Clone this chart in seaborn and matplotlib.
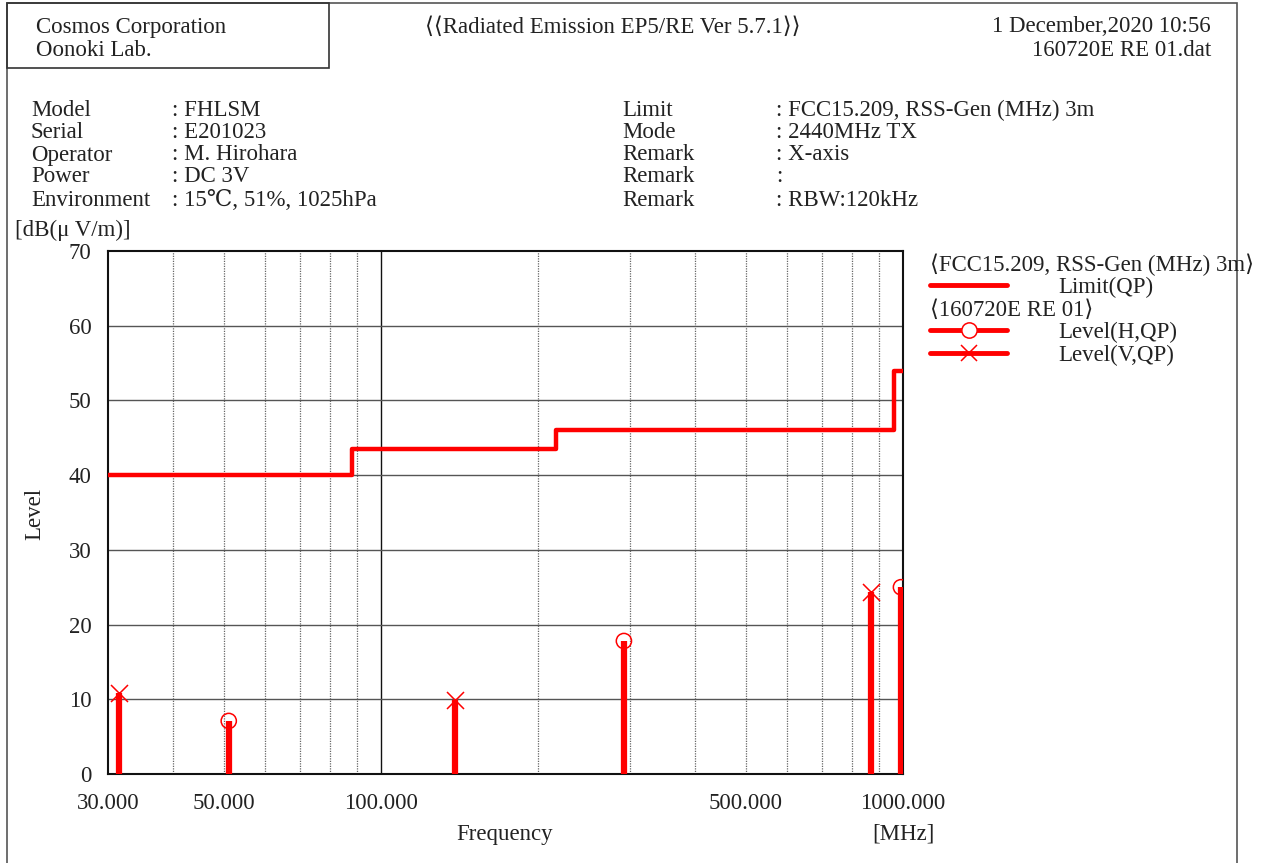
import numpy as np
import pandas as pd
import matplotlib
matplotlib.use("Agg")
import matplotlib.pyplot as plt
from matplotlib.patches import Rectangle
from matplotlib.lines import Line2D
from matplotlib.ticker import FixedLocator, NullFormatter
import seaborn as sns

# ---- data ----
limit_freq = [30.0, 88.0, 216.0, 960.0, 1000.0]
limit_level = [40.0, 43.5, 46.0, 54.0, 54.0]

h_freq = [51.1, 292.0, 991.0]
h_level = [7.1, 17.8, 25.0]

v_freq = [31.5, 138.6, 868.0]
v_level = [10.8, 9.9, 24.4]

x_tick_values = [30, 50, 100, 500, 1000]
x_tick_labels = ["30.000", "50.000", "100.000", "500.000", "1000.000"]
y_tick_values = [0, 10, 20, 30, 40, 50, 60, 70]

info_left = [("Model", ": FHLSM"), ("Serial", ": E201023"), ("Operator", ": M. Hirohara"),
             ("Power", ": DC 3V"), ("Environment", ": 15\u2103, 51%, 1025hPa")]
info_right = [("Limit", ": FCC15.209, RSS-Gen (MHz) 3m"), ("Mode", ": 2440MHz TX"),
              ("Remark", ": X-axis"), ("Remark", ":"), ("Remark", ": RBW:120kHz")]

sns.set_theme(style="white")
FONT = ["Liberation Serif", "DejaVu Serif", "DejaVu Sans"]
plt.rcParams["font.family"] = FONT
plt.rcParams["text.color"] = "#222222"

W, H = 1270, 863
fig = plt.figure(figsize=(W / 100, H / 100), dpi=100)
fs = 16.5


def fx(px):
    return px / W


def fy(py):
    return 1 - py / H


def ftext(px, py, s, ha="left", **kw):
    fig.text(fx(px), fy(py + 2), s, ha=ha, va="center", fontsize=kw.pop("fontsize", fs), **kw)


# page frame and header box
fig.add_artist(Rectangle((fx(7), fy(870)), fx(1237 - 7), fy(3) - fy(870), transform=fig.transFigure,
                         fill=False, edgecolor="#555555", linewidth=1.2))
fig.add_artist(Rectangle((fx(7), fy(68)), fx(329 - 7), fy(3) - fy(68), transform=fig.transFigure,
                         fill=False, edgecolor="#333333", linewidth=1.2))

ftext(36, 25, "Cosmos Corporation")
ftext(36, 48, "Oonoki Lab.")
ftext(425, 25, "\u27e8\u27e8Radiated Emission EP5/RE Ver 5.7.1\u27e9\u27e9")
ftext(1211, 25, "1 December,2020 10:56", ha="right")
ftext(1211, 48, "160720E RE 01.dat", ha="right")

row_y = [108, 130, 153, 175, 198]
for (k, v), y in zip(info_left, row_y):
    ftext(31, y, k)
    ftext(172, y, v)
for (k, v), y in zip(info_right, row_y):
    ftext(622, y, k)
    ftext(776, y, v)

ftext(15, 228, "[dB(\u03bc V/m)]")

# ---- axes ----
ax = fig.add_axes([fx(108), fy(774), fx(903 - 108), fy(251) - fy(774)])
ax.set_xscale("log")
ax.set_xlim(30, 1000)
ax.set_ylim(0, 70)

# grid
for f in list(range(40, 100, 10)) + list(range(200, 1000, 100)):
    ax.axvline(f, color="#666666", linewidth=0.9, linestyle=(0, (1, 1)), zorder=1)
ax.axvline(100, color="#111111", linewidth=1.0, zorder=1)
for lv in range(10, 70, 10):
    ax.axhline(lv, color="#555555", linewidth=1.0, zorder=1)

# limit line
limit_df = pd.DataFrame({"freq": limit_freq, "level": limit_level})
sns.lineplot(data=limit_df, x="freq", y="level", ax=ax, drawstyle="steps-post",
             color="#ff0000", linewidth=3.2, zorder=3)

# measured levels as stems with markers
ax.vlines(h_freq, 0, h_level, color="#ff0000", linewidth=4.5, zorder=4)
ax.vlines(v_freq, 0, v_level, color="#ff0000", linewidth=4.5, zorder=4)
sns.scatterplot(x=h_freq, y=h_level, ax=ax, marker="o", s=120, facecolor="none",
                edgecolor="#ff0000", linewidth=1.1, zorder=5)
sns.scatterplot(x=v_freq, y=v_level, ax=ax, marker="x", s=150, color="#ff0000",
                linewidth=1.1, zorder=5)

ax.xaxis.set_major_locator(FixedLocator(x_tick_values))
ax.xaxis.set_minor_locator(FixedLocator([]))
ax.xaxis.set_minor_formatter(NullFormatter())
ax.set_xticklabels(x_tick_labels)
ax.set_yticks(y_tick_values)
ax.yaxis.set_minor_locator(FixedLocator(np.arange(0, 71, 2)))
ax.tick_params(axis="x", which="both", length=0, labelsize=fs, pad=14, labelcolor="#222222")
ax.tick_params(axis="y", which="major", length=0, labelsize=fs, pad=12, labelcolor="#222222")
ax.tick_params(axis="y", which="minor", direction="in", length=6, width=1.2, color="#222222")
ax.set_xlabel("")
ax.set_ylabel("")
for sp in ax.spines.values():
    sp.set_color("#111111")
    sp.set_linewidth(1.5)

ftext(35, 512, "Level", rotation=90, ha="center")
ftext(505, 832, "Frequency", ha="center")
ftext(903, 832, "[MHz]", ha="center")

# legend block
ftext(930, 263, "\u27e8FCC15.209, RSS-Gen (MHz) 3m\u27e9")
ftext(930, 308, "\u27e8160720E RE 01\u27e9")
leg_rows = [(285, None, "Limit(QP)"), (330, "o", "Level(H,QP)"), (353, "x", "Level(V,QP)")]
for y, mk, label in leg_rows:
    fig.add_artist(Line2D([fx(930), fx(1007)], [fy(y), fy(y)], transform=fig.transFigure,
                          color="#ff0000", linewidth=3.5))
    if mk is not None:
        fig.add_artist(Line2D([fx(968.5)], [fy(y)], transform=fig.transFigure, marker=mk,
                              markersize=11, markerfacecolor="white" if mk == "o" else "#ff0000",
                              markeredgecolor="#ff0000", markeredgewidth=1.1, linestyle="none"))
    ftext(1058, y, label)

fig.savefig("out.png", dpi=100)
